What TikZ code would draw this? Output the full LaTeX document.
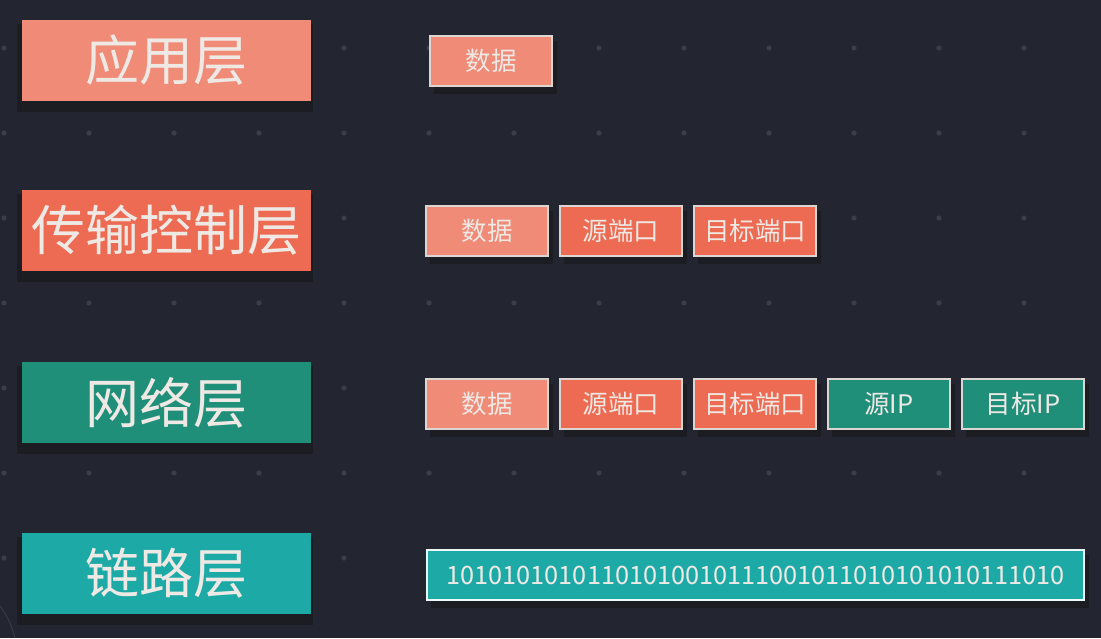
\documentclass[tikz,border=0pt]{standalone}
\usepackage{fontspec}
\setmainfont{Noto Sans CJK SC}
\newfontfamily\cjk{Noto Sans CJK SC}
\definecolor{bgc}{HTML}{232630}
\definecolor{dotc}{HTML}{3A3E49}
\definecolor{shc}{HTML}{1B1D23}
\definecolor{salmon}{HTML}{EF8B77}
\definecolor{tomatoc}{HTML}{EC6B52}
\definecolor{greenc}{HTML}{208F7A}
\definecolor{tealc}{HTML}{1DAAA6}
\definecolor{txtc}{HTML}{EFE9E5}
\definecolor{bordc}{HTML}{DCD6D2}
\definecolor{arcc}{HTML}{353842}
\pgfdeclarelayer{bglayer}
\pgfdeclarelayer{shadowlayer}
\pgfsetlayers{bglayer,shadowlayer,main}
\tikzset{
  layerbox/.style={anchor=north west, inner sep=0pt, outer sep=0pt,
    minimum width=289pt, minimum height=81pt, text=txtc,
    font=\cjk\fontsize{54}{58}\selectfont},
  pktbox/.style={anchor=north west, inner sep=0pt, outer sep=0pt,
    minimum width=122pt, minimum height=50pt, text=txtc,
    draw=bordc, line width=1.1pt,
    font=\cjk\fontsize{25.5}{28}\selectfont},
  bitbox/.style={anchor=north west, inner sep=0pt, outer sep=0pt,
    minimum width=657pt, minimum height=50pt, text=txtc,
    draw=white!92!tealc, line width=2pt,
    font=\cjk\fontsize{25.3}{28}\selectfont},
  dotmark/.style={fill=dotc, draw=none},
  bigshadow/.style={fill=shc, draw=none},
  smallshadow/.style={fill=shc, draw=none}
}
\begin{document}
\begin{tikzpicture}[x=1pt,y=-1pt]
\useasboundingbox (0,0) rectangle (1101,638);
\begin{pgfonlayer}{bglayer}
  \fill[bgc] (0,0) rectangle (1101,638);
  \foreach \j in {0,...,6}{
    \foreach \k in {0,...,12}{
      \fill[dotmark] ({4+85*\k},{48+85*\j}) circle (2.6pt);
    }
  }
  \draw[arcc, line width=1.2pt] (0,606) to[bend left=10] (15,638);
\end{pgfonlayer}

% layer boxes
\node[layerbox, fill=salmon]  (l1) at (22,20)  {应用层};
\node[layerbox, fill=tomatoc] (l2) at (22,190) {传输控制层};
\node[layerbox, fill=greenc]  (l3) at (22,362) {网络层};
\node[layerbox, fill=tealc]   (l4) at (22,533) {链路层};

% row 1
\node[pktbox, fill=salmon] (a1) at (430,36) {数据};
% row 2
\node[pktbox, fill=salmon]  (b1) at (426,206) {数据};
\node[pktbox, fill=tomatoc] (b2) at (560,206) {源端口};
\node[pktbox, fill=tomatoc] (b3) at (694,206) {目标端口};
% row 3
\node[pktbox, fill=salmon]  (c1) at (426,379) {数据};
\node[pktbox, fill=tomatoc] (c2) at (560,379) {源端口};
\node[pktbox, fill=tomatoc] (c3) at (694,379) {目标端口};
\node[pktbox, fill=greenc]  (c4) at (828,379) {源IP};
\node[pktbox, fill=greenc]  (c5) at (962,379) {目标IP};
% row 4
\node[bitbox, fill=tealc] (d1) at (427,550) {10101010101101010010111001011010101010111010};

\begin{pgfonlayer}{shadowlayer}
  \foreach \n in {l1,l2,l3,l4}{
    \fill[bigshadow] ([xshift=-5pt,yshift=-4pt]\n.north west) rectangle ([xshift=2pt,yshift=-11pt]\n.south east);
  }
  \foreach \n in {a1,b1,b2,b3,c1,c2,c3,c4,c5,d1}{
    \fill[smallshadow] ([xshift=4pt,yshift=-5pt]\n.north west) rectangle ([xshift=5pt,yshift=-8pt]\n.south east);
  }
\end{pgfonlayer}
\end{tikzpicture}
\end{document}
